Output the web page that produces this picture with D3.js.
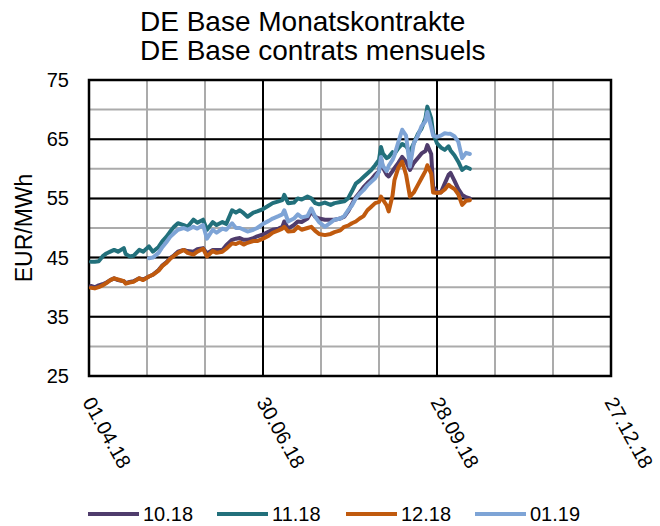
<!DOCTYPE html>
<html>
<head>
<meta charset="utf-8">
<style>
  body { margin: 0; background: #fff; }
  text { font-family: "Liberation Sans", Arial, sans-serif; fill: #000; }
  .series { fill: none; stroke-width: 4px; stroke-linejoin: round; stroke-linecap: round; }
</style>
</head>
<body>
<svg id="chart" width="660" height="526"></svg>

<script src="https://d3js.org/d3.v7.min.js"></script>
<script>
  // trading dates
  const dates = [
    "2018-04-02","2018-04-04","2018-04-06","2018-04-08","2018-04-10","2018-04-12","2018-04-14","2018-04-16",
    "2018-04-19","2018-04-20","2018-04-22","2018-04-24","2018-04-27","2018-04-29","2018-05-02","2018-05-04",
    "2018-05-07","2018-05-09","2018-05-11","2018-05-13","2018-05-15","2018-05-17","2018-05-20","2018-05-22",
    "2018-05-25","2018-05-27","2018-05-30","2018-06-01","2018-06-04","2018-06-06","2018-06-09","2018-06-11",
    "2018-06-14","2018-06-16","2018-06-18","2018-06-20","2018-06-22","2018-06-25","2018-06-27","2018-06-30",
    "2018-07-03","2018-07-05","2018-07-08","2018-07-10","2018-07-11","2018-07-13","2018-07-16","2018-07-18",
    "2018-07-20","2018-07-23","2018-07-25","2018-07-27","2018-07-29","2018-08-01","2018-08-04","2018-08-06",
    "2018-08-09","2018-08-11","2018-08-13","2018-08-15","2018-08-17","2018-08-19","2018-08-21","2018-08-23",
    "2018-08-25","2018-08-27","2018-08-29","2018-08-30","2018-08-31","2018-09-02","2018-09-03","2018-09-05",
    "2018-09-06","2018-09-08","2018-09-10","2018-09-12","2018-09-14","2018-09-16","2018-09-18","2018-09-20",
    "2018-09-22","2018-09-23","2018-09-25","2018-09-26","2018-09-28","2018-09-30","2018-10-02","2018-10-04",
    "2018-10-05","2018-10-07","2018-10-09","2018-10-11","2018-10-13","2018-10-15"
  ];

  const c1018 = [
    40.2,40.0,40.3,40.5,40.8,41.2,41.5,41.2, 41.0,40.7,40.9,41.0,41.5,41.3,41.8,42.1,
    42.9,43.7,44.2,44.9,45.4,46.0,46.3,46.1, 46.0,46.4,46.6,45.7,46.3,46.3,46.3,47.1,
    48.0,48.2,48.3,48.0,48.0,48.3,48.6,48.9, 49.4,49.7,49.9,50.2,51.1,49.9,50.5,51.1,
    51.0,51.6,52.8,51.9,51.6,51.4,51.4,51.4, 51.6,51.9,52.8,54.0,55.2,56.0,56.9,57.6,
    58.2,59.0,59.6,61.8,60.2,59.0,58.7,59.6, 60.1,61.0,62.0,61.2,59.8,61.0,61.8,62.6,
    63.0,64.0,62.5,57.0,56.1,56.0,57.5,59.0, 59.3,58.0,56.6,55.6,55.2,55.0
  ];
  const c1118 = [
    44.3,44.3,44.4,45.2,45.7,46.0,46.3,46.0, 46.6,45.6,45.2,45.3,46.3,46.0,46.9,46.0,
    46.8,47.8,48.5,49.4,50.2,50.8,50.5,50.2, 51.4,50.9,51.4,49.7,51.0,50.5,51.0,50.7,
    53.0,52.6,53.0,52.5,51.9,52.6,52.8,53.2, 53.8,54.2,54.5,54.7,55.6,54.2,54.3,55.0,
    54.8,55.3,55.0,54.2,54.0,54.3,53.9,54.2, 54.4,54.5,55.0,56.2,57.5,58.0,58.6,59.2,
    59.8,60.6,61.5,63.7,62.6,61.8,62.0,62.8, 62.5,63.5,64.2,63.8,62.9,64.3,65.8,66.8,
    68.5,70.5,68.5,66.0,64.3,63.6,63.2,63.8, 63.1,62.3,61.2,59.8,60.3,60.0
  ];
  const c1218 = [
    39.9,39.8,40.0,40.3,40.7,41.2,41.5,41.3, 41.0,40.6,40.8,40.9,41.5,41.2,41.8,42.1,
    42.8,43.6,44.1,44.8,45.3,45.8,46.3,45.8, 45.5,46.0,46.5,45.2,46.1,45.8,46.0,46.5,
    47.4,47.3,47.6,47.2,47.5,47.8,47.8,48.2, 48.7,49.2,49.6,49.9,50.2,49.4,49.5,50.2,
    49.7,50.0,50.2,49.5,49.0,48.8,49.0,49.3, 49.6,50.2,50.4,50.8,51.1,51.6,52.0,53.0,
    53.6,54.2,54.4,55.3,54.8,53.8,52.8,55.5, 58.1,60.2,61.2,59.0,55.3,56.0,57.2,58.4,
    59.6,60.6,59.2,56.0,55.9,56.0,56.5,57.3, 57.0,56.6,55.7,53.9,54.6,54.7
  ];
  const c0119 = [
    null,null,null,null,null,null,null,null, null,null,null,null,null,null,44.9,45.0,
    45.8,46.8,47.6,48.5,49.1,49.7,50.0,49.7, 50.2,49.9,50.5,48.2,49.7,49.2,49.9,49.7,
    50.8,50.0,50.0,49.7,49.4,49.7,50.0,50.7, 51.2,51.6,52.0,52.3,53.0,51.1,51.6,52.3,
    51.8,52.0,53.3,51.9,51.0,50.2,50.9,51.4, 51.6,52.0,53.0,53.8,55.0,55.8,56.4,57.2,
    57.8,58.4,59.5,62.0,60.5,59.6,60.5,61.5, 62.3,64.5,66.6,65.6,60.4,64.3,65.5,67.2,
    68.0,69.6,67.0,65.6,65.4,65.6,66.0,65.9, 65.9,65.5,64.6,61.8,62.7,62.5
  ];

  const seriesNames = ["10.18", "11.18", "12.18", "01.19"];
  const seriesColors = ["#4f3c6c", "#22707b", "#c05a0e", "#7ea4d6"];
  const xLabels = ["01.04.18", "30.06.18", "28.09.18", "27.12.18"];
  const yTicks = [25, 35, 45, 55, 65, 75];

  const svg = d3.select("#chart");
  const margin = { left: 89, right: 49, top: 80, bottom: 150 };
  const width = 660 - margin.left - margin.right;
  const height = 526 - margin.top - margin.bottom;

  const parseDay = d3.utcParse("%Y-%m-%d");
  const parseLabel = d3.utcParse("%d.%m.%y");
  const labelDates = xLabels.map(parseLabel);

  const x = d3.scaleUtc()
    .domain([labelDates[0], labelDates[labelDates.length - 1]])
    .range([margin.left, margin.left + width]);
  const y = d3.scaleLinear()
    .domain([25, 75])
    .range([margin.top + height, margin.top]);

  // minor gridlines every 30 days, every 5 EUR
  const minorX = d3.range(0, 271, 30).map(d => d3.utcDay.offset(labelDates[0], d));
  const minorY = d3.range(25, 76, 5);

  const grid = svg.append("g");
  grid.selectAll(".gx").data(minorX).join("line")
    .attr("x1", d => x(d)).attr("x2", d => x(d))
    .attr("y1", margin.top).attr("y2", margin.top + height)
    .attr("stroke", "#ababab").attr("stroke-width", 2);
  grid.selectAll(".gy").data(minorY).join("line")
    .attr("y1", d => y(d)).attr("y2", d => y(d))
    .attr("x1", margin.left).attr("x2", margin.left + width)
    .attr("stroke", "#ababab").attr("stroke-width", 2);

  // major gridlines
  grid.selectAll(".mx").data(labelDates).join("line")
    .attr("x1", d => x(d)).attr("x2", d => x(d))
    .attr("y1", margin.top).attr("y2", margin.top + height)
    .attr("stroke", "#000").attr("stroke-width", 2);
  grid.selectAll(".my").data(yTicks).join("line")
    .attr("y1", d => y(d)).attr("y2", d => y(d))
    .attr("x1", margin.left).attr("x2", margin.left + width)
    .attr("stroke", "#000").attr("stroke-width", 2);

  grid.append("rect")
    .attr("x", margin.left).attr("y", margin.top)
    .attr("width", width).attr("height", height)
    .attr("fill", "none").attr("stroke", "#000").attr("stroke-width", 2.5);

  // y tick labels
  svg.append("g").selectAll("text").data(yTicks).join("text")
    .attr("x", 69).attr("y", d => y(d)).attr("dy", "0.35em")
    .attr("text-anchor", "end").attr("font-size", 20)
    .text(d => d);

  // x tick labels, rotated
  svg.append("g").selectAll("text").data(labelDates).join("text")
    .attr("transform", d => `translate(${x(d) - 7},402) rotate(61)`)
    .attr("text-anchor", "start").attr("font-size", 20)
    .text((d, i) => xLabels[i]);

  svg.append("text")
    .attr("transform", `translate(32,${margin.top + height / 2}) rotate(-90)`)
    .attr("text-anchor", "middle").attr("font-size", 23)
    .text("EUR/MWh");

  // title
  svg.append("text").attr("x", 140).attr("y", 31).attr("font-size", 28)
    .text("DE Base Monatskontrakte");
  svg.append("text").attr("x", 140).attr("y", 60).attr("font-size", 28)
    .text("DE Base contrats mensuels");

  // series
  const series = [c1018, c1118, c1218, c0119];
  const line = d3.line()
    .defined(d => d.v != null)
    .x(d => x(d.date))
    .y(d => y(d.v));

  series.forEach((vals, i) => {
    const pts = dates.map((s, j) => ({ date: parseDay(s), v: vals[j] }));
    svg.append("path")
      .datum(pts)
      .attr("class", "series")
      .attr("stroke", seriesColors[i])
      .attr("d", line);
  });

  // legend
  const legend = svg.append("g").selectAll("g").data(seriesNames).join("g")
    .attr("transform", (d, i) => `translate(${88 + i * 129},514)`);
  legend.append("line")
    .attr("x1", 0).attr("x2", 51)
    .attr("stroke", (d, i) => seriesColors[i])
    .attr("stroke-width", 4);
  legend.append("text")
    .attr("x", 55).attr("dy", "0.35em").attr("font-size", 20)
    .text(d => d);
</script>
</body>
</html>
